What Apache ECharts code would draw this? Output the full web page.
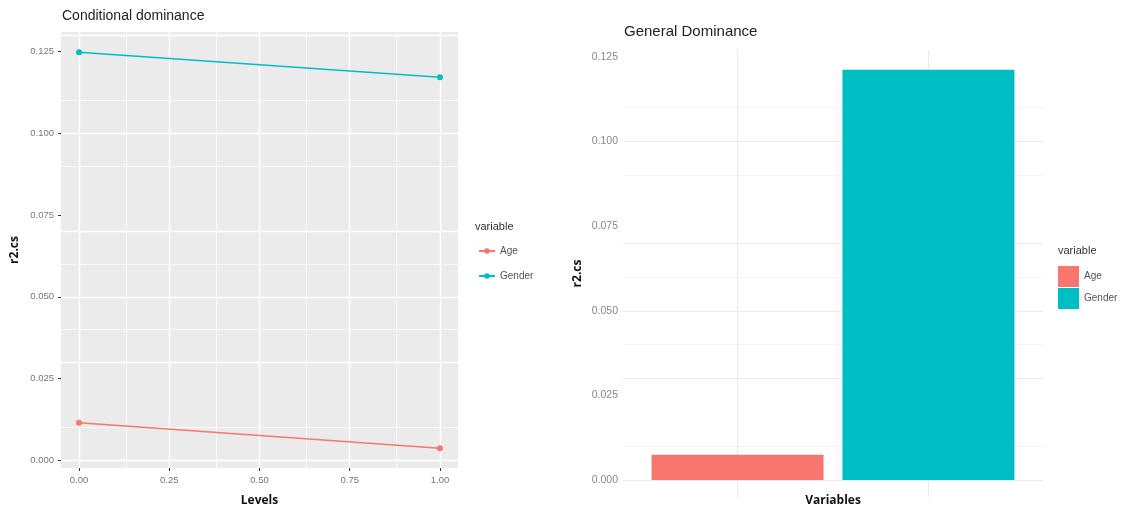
<!DOCTYPE html>
<html><head><meta charset="utf-8">
<script src="https://cdn.jsdelivr.net/npm/echarts@6/dist/echarts.min.js"></script>
<style>html,body{margin:0;padding:0;background:#fff}#c{width:1123px;height:512px}</style>
</head><body><div id="c"></div>
<script>
// ---- data ----
const levels = [0, 1];
const ageConditional = [0.0115, 0.0037];
const genderConditional = [0.1247, 0.1171];
const variables = ['Age', 'Gender'];
const generalDominance = [0.0075, 0.1212];
const leftXTicks = [0, 0.25, 0.5, 0.75, 1];
const leftXMinor = [0.125, 0.375, 0.625, 0.875];
const yTicks = [0, 0.025, 0.05, 0.075, 0.1, 0.125];
const yMinor = [0.0125, 0.0375, 0.0625, 0.0875, 0.1125];
const barPositions = [1, 2];

// ---- styles ----
const colors = { Age: '#F8766D', Gender: '#00BFC4' };
const tickFont = 'Liberation Sans';
const titleFont = 'Liberation Sans';
const axisTitleFont = 'Open Sans';

function gridLines(axisKey, majors, minors, color, wMajor, wMinor) {
  return minors.map(v => ({ [axisKey]: v, lineStyle: { color, width: wMinor, type: 'solid' } }))
    .concat(majors.map(v => ({ [axisKey]: v, lineStyle: { color, width: wMajor, type: 'solid' } })));
}
function gridSeries(xi, yi, lines) {
  return {
    type: 'line', xAxisIndex: xi, yAxisIndex: yi, data: [], z: 1, zlevel: 0, silent: true,
    markLine: { silent: true, z: 1, symbol: ['none', 'none'], label: { show: false }, animation: false, data: lines }
  };
}
const tickAxisLine = { show: true, onZero: false, lineStyle: { color: 'rgba(0,0,0,0)' } };

const chart = echarts.init(document.getElementById('c'), null, { renderer: 'canvas' });
const option = {
  animation: false,
  backgroundColor: '#ffffff',
  title: [
    { text: 'Conditional dominance', left: 62, top: 9, padding: 0,
      textStyle: { fontSize: 14, fontWeight: 'normal', color: '#222', fontFamily: titleFont } },
    { text: 'General Dominance', left: 624, top: 24, padding: 0,
      textStyle: { fontSize: 15, fontWeight: 'normal', color: '#222', fontFamily: titleFont } },
    { text: 'variable', left: 475, top: 221, padding: 0,
      textStyle: { fontSize: 11, fontWeight: 'normal', color: '#333', fontFamily: titleFont } },
    { text: 'variable', left: 1058, top: 245, padding: 0,
      textStyle: { fontSize: 11, fontWeight: 'normal', color: '#333', fontFamily: titleFont } }
  ],
  legend: [
    { data: variables, orient: 'vertical', left: 478, top: 246, padding: 0,
      itemWidth: 16, itemHeight: 7, itemGap: 15,
      textStyle: { fontSize: 10, color: '#555', fontFamily: tickFont } },
    { data: variables.map(v => v + '_bar'), orient: 'vertical', left: 1058, top: 266, padding: 0,
      icon: 'rect', itemWidth: 21, itemHeight: 21, itemGap: 1,
      formatter: n => n.replace('_bar', ''),
      textStyle: { fontSize: 10, color: '#555', fontFamily: tickFont } }
  ],
  grid: [
    { left: 61, top: 32, width: 397, height: 436, show: true, backgroundColor: '#EBEBEB', borderWidth: 0 },
    { left: 623, top: 50, width: 420, height: 450, show: false }
  ],
  xAxis: [
    { type: 'value', gridIndex: 0, min: -0.05, max: 1.05,
      name: 'Levels', nameLocation: 'middle', nameGap: 27,
      nameTextStyle: { fontFamily: axisTitleFont, fontWeight: 'bold', fontSize: 12, color: '#111' },
      axisLine: tickAxisLine, splitLine: { show: false },
      axisTick: { show: true, inside: false, length: 3, customValues: leftXTicks, lineStyle: { color: '#333', width: 1 } },
      axisLabel: { customValues: leftXTicks, margin: 7, fontSize: 9.5, color: '#777', fontFamily: tickFont,
        formatter: v => v.toFixed(2) } },
    { type: 'value', gridIndex: 1, min: 0.4, max: 2.6,
      name: 'Variables', nameLocation: 'middle', nameGap: -2,
      nameTextStyle: { fontFamily: axisTitleFont, fontWeight: 'bold', fontSize: 12, color: '#111' },
      axisLine: { show: false, onZero: false }, axisTick: { show: false }, axisLabel: { show: false }, splitLine: { show: false } }
  ],
  yAxis: [
    { type: 'value', gridIndex: 0, min: -0.0023, max: 0.1309,
      name: 'r2.cs', nameLocation: 'middle', nameGap: 40,
      nameTextStyle: { fontFamily: axisTitleFont, fontWeight: 'bold', fontSize: 12, color: '#111' },
      axisLine: tickAxisLine, splitLine: { show: false },
      axisTick: { show: true, inside: false, length: 3, customValues: yTicks, lineStyle: { color: '#333', width: 1 } },
      axisLabel: { customValues: yTicks, margin: 7, fontSize: 9.5, color: '#777', fontFamily: tickFont,
        formatter: v => v.toFixed(3) } },
    { type: 'value', gridIndex: 1, min: -0.005, max: 0.12705,
      name: 'r2.cs', nameLocation: 'middle', nameGap: 39,
      nameTextStyle: { fontFamily: axisTitleFont, fontWeight: 'bold', fontSize: 12, color: '#111' },
      axisLine: { show: false, onZero: false }, splitLine: { show: false }, axisTick: { show: false },
      axisLabel: { customValues: yTicks, margin: 5, fontSize: 10.5, color: '#888', fontFamily: tickFont,
        formatter: v => v.toFixed(3) } }
  ],
  series: [
    gridSeries(0, 0, gridLines('yAxis', yTicks, yMinor, '#FFFFFF', 1.4, 0.7)
      .concat(gridLines('xAxis', leftXTicks, leftXMinor, '#FFFFFF', 1.4, 0.7))),
    gridSeries(1, 1, gridLines('yAxis', yTicks, yMinor, '#EBEBEB', 1.2, 0.6)
      .concat(gridLines('xAxis', barPositions, [], '#EBEBEB', 1.2, 0.6))),
    { name: 'Age', type: 'line', xAxisIndex: 0, yAxisIndex: 0, z: 3,
      data: levels.map((x, i) => [x, ageConditional[i]]),
      symbol: 'circle', symbolSize: 6, color: colors.Age,
      lineStyle: { width: 1.5, color: colors.Age }, itemStyle: { color: colors.Age } },
    { name: 'Gender', type: 'line', xAxisIndex: 0, yAxisIndex: 0, z: 3,
      data: levels.map((x, i) => [x, genderConditional[i]]),
      symbol: 'circle', symbolSize: 6, color: colors.Gender,
      lineStyle: { width: 1.5, color: colors.Gender }, itemStyle: { color: colors.Gender } },
    { name: 'Age_bar', type: 'bar', xAxisIndex: 1, yAxisIndex: 1, z: 3,
      data: [[barPositions[0], generalDominance[0]]], barWidth: 172, barGap: '-100%',
      itemStyle: { color: colors.Age } },
    { name: 'Gender_bar', type: 'bar', xAxisIndex: 1, yAxisIndex: 1, z: 3,
      data: [[barPositions[1], generalDominance[1]]], barWidth: 172, barGap: '-100%',
      itemStyle: { color: colors.Gender } }
  ]
};
chart.setOption(option);
</script>
</body></html>
